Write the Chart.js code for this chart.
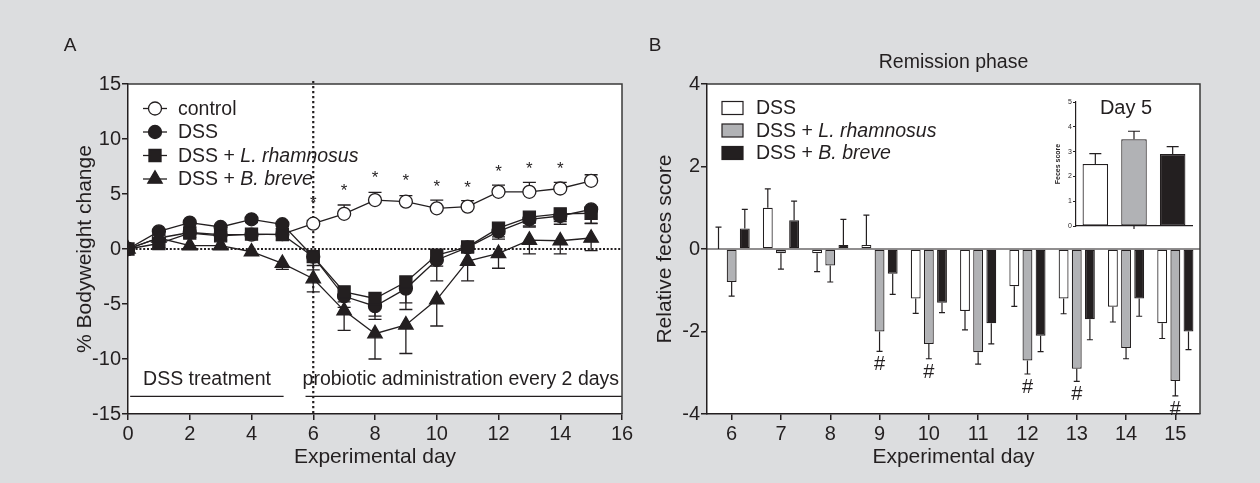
<!DOCTYPE html>
<html><head><meta charset="utf-8">
<script src="https://cdn.jsdelivr.net/npm/chart.js@4.4.1/dist/chart.umd.min.js"></script>
<style>
html,body{margin:0;padding:0;background:#dcdddf;}
#wrap{position:relative;width:1260px;height:483px;overflow:hidden;background:#dcdddf;}
canvas{position:absolute;display:block;}
#cA{left:0;top:0;}
#cB{left:640px;top:0;}
#cI{left:1040px;top:85px;}
</style></head><body>
<div id="wrap">
<canvas id="cA" width="640" height="483"></canvas>
<canvas id="cB" width="620" height="483"></canvas>
<canvas id="cI" width="160" height="150"></canvas>
</div>
<script>
// ---------- Panel A data ----------
const daysA = [0,1,2,3,4,5,6,7,8,9,10,11,12,13,14,15];
const namesA = ['control','DSS','DSS + L. rhamnosus','DSS + B. breve'];
const controlVals = [0,1.0,1.5,1.3,1.3,1.35,2.3,3.2,4.45,4.3,3.7,3.85,5.2,5.2,5.5,6.2];
const controlErr  = [0,0.3,0.3,0.3,0.3,0.3,0.3,0.8,0.7,0.55,0.75,0.55,0.6,0.85,0.55,0.55];
const dssVals = [0,1.6,2.4,2.0,2.7,2.25,-0.7,-4.3,-5.2,-3.6,-1.0,0.15,1.6,2.7,3.0,3.6];
const dssErr  = [0,0.4,0.4,0.4,0.3,0.4,1.2,1.0,1.2,1.9,1.9,0.5,0.5,0.6,0.5,1.3];
const lrhVals = [0,0.5,1.45,1.2,1.35,1.3,-0.7,-3.9,-4.5,-3.0,-0.55,0.2,1.9,2.9,3.2,3.25];
const lrhErr  = [0,0.4,0.4,0.4,0.4,0.5,0.8,0.9,1.6,1.9,1.0,0.4,1.0,0.9,0.95,0.9];
const bbrVals = [0,1.0,0.3,0.3,-0.25,-1.3,-2.7,-5.6,-7.7,-6.9,-4.6,-1.1,-0.4,0.8,0.75,1.0];
const bbrErr  = [0,0.4,0.3,0.3,0.3,0.55,1.2,1.8,2.3,2.6,2.4,1.8,1.35,1.25,1.2,1.15];
const starDays = [6,7,8,9,10,11,12,13,14];
const starVals = [4.6,5.7,6.9,6.6,6.1,6.0,7.5,7.7,7.7];
const ticksA_x = {min:0, max:16, step:2};
const ticksA_y = {min:-15, max:15, step:5};

// ---------- Panel B data ----------
const daysB = ['6','7','8','9','10','11','12','13','14','15'];
const namesB = ['DSS','DSS + L. rhamnosus','DSS + B. breve'];
const bDssVals = [0,1.0,-0.1,0.1,-1.2,-1.5,-0.9,-1.2,-1.4,-1.8];
const bDssErr  = [0.53,0.46,0.45,0.72,0.36,0.46,0.49,0.37,0.37,0.37];
const bLrhVals = [-0.8,-0.1,-0.4,-2.0,-2.3,-2.5,-2.7,-2.9,-2.4,-3.2];
const bLrhErr  = [0.34,0.39,0.4,0.48,0.36,0.29,0.33,0.31,0.26,0.36];
const bBbrVals = [0.5,0.7,0.1,-0.6,-1.3,-1.8,-2.1,-1.7,-1.2,-2.0];
const bBbrErr  = [0.46,0.46,0.62,0.5,0.24,0.5,0.39,0.5,0.43,0.44];
const hashDays = ['9','10','12','13','15'];
const ticksB_y = {min:-4, max:4, step:2};

// ---------- Inset data ----------
const insetLabels = ['DSS','DSS + L. rhamnosus','DSS + B. breve'];
const insetVals = [2.5,3.5,2.9];
const insetErr = [0.42,0.32,0.3];
const ticksI_y = {min:0, max:5, step:1};

// ---------- styling ----------
const FONT = "'Liberation Sans', Arial, Helvetica, sans-serif";
const INK = '#231f20';
const GRAY = '#b1b2b5';
const TICK = 20, TITLE = 21, TXT = 19.5;

function richText(ctx, label, x, y, size, align) {
  const parts = label.split(' + ');
  const segs = parts.length > 1 ? [[parts[0] + ' + ', false], [parts[1], true]] : [[label, false]];
  let w = 0;
  segs.forEach(s => { ctx.font = (s[1] ? 'italic ' : '') + size + 'px ' + FONT; w += ctx.measureText(s[0]).width; });
  let cx = align === 'center' ? x - w / 2 : x;
  ctx.textAlign = 'left';
  segs.forEach(s => {
    ctx.font = (s[1] ? 'italic ' : '') + size + 'px ' + FONT;
    ctx.fillText(s[0], cx, y);
    cx += ctx.measureText(s[0]).width;
  });
}

function drawMarker(ctx, style, x, y, r, fill) {
  ctx.save();
  ctx.fillStyle = fill; ctx.strokeStyle = INK; ctx.lineWidth = 1.3;
  ctx.beginPath();
  if (style === 'circle') ctx.arc(x, y, r, 0, Math.PI * 2);
  else if (style === 'rect') { const s = r / Math.SQRT2; ctx.rect(x - s, y - s, 2 * s, 2 * s); }
  else if (style === 'triangle') {
    ctx.moveTo(x, y - r); ctx.lineTo(x + r * 0.866, y + r * 0.5); ctx.lineTo(x - r * 0.866, y + r * 0.5); ctx.closePath();
  }
  ctx.fill(); ctx.stroke();
  ctx.restore();
}

const whiteArea = {
  id: 'whiteArea',
  beforeDraw(chart) {
    const {ctx, chartArea: a} = chart;
    ctx.save(); ctx.fillStyle = '#ffffff';
    ctx.fillRect(a.left, a.top, a.right - a.left, a.bottom - a.top);
    ctx.restore();
  }
};
const frame = {
  id: 'frame',
  afterDraw(chart) {
    const {ctx, chartArea: a} = chart;
    ctx.save(); ctx.strokeStyle = '#3a3a3a'; ctx.lineWidth = 1.5;
    ctx.beginPath();
    ctx.moveTo(a.left, a.top); ctx.lineTo(a.right, a.top); ctx.lineTo(a.right, a.bottom);
    ctx.stroke(); ctx.restore();
  }
};

// ---------- Panel A ----------
const seriesA = [
  {vals: controlVals, err: controlErr, dir: 1, style: 'circle', r: 6.5, fill: '#ffffff', order: 4},
  {vals: dssVals, err: dssErr, dir: -1, style: 'circle', r: 6.5, fill: INK, order: 3},
  {vals: lrhVals, err: lrhErr, dir: -1, style: 'rect', r: 8.5, fill: INK, order: 2},
  {vals: bbrVals, err: bbrErr, dir: -1, style: 'triangle', r: 8.3, fill: INK, order: 1}
];

const pluginA = {
  id: 'pluginA',
  beforeDatasetsDraw(chart) {
    const {ctx, chartArea: a, scales: {x, y}} = chart;
    ctx.save();
    ctx.strokeStyle = INK; ctx.lineWidth = 2.2; ctx.setLineDash([2, 1.8]);
    ctx.beginPath(); ctx.moveTo(a.left, y.getPixelForValue(0)); ctx.lineTo(a.right, y.getPixelForValue(0)); ctx.stroke();
    ctx.setLineDash([2.2, 2.8]);
    ctx.beginPath(); ctx.moveTo(x.getPixelForValue(6), a.top - 3); ctx.lineTo(x.getPixelForValue(6), a.bottom); ctx.stroke();
    ctx.setLineDash([]);
    // error bars
    ctx.lineWidth = 1.3;
    seriesA.forEach(s => {
      s.vals.forEach((v, i) => {
        if (!s.err[i]) return;
        const px = x.getPixelForValue(daysA[i]);
        const y0 = y.getPixelForValue(v), y1 = y.getPixelForValue(v + s.dir * s.err[i]);
        ctx.beginPath(); ctx.moveTo(px, y0); ctx.lineTo(px, y1);
        ctx.moveTo(px - 6.5, y1); ctx.lineTo(px + 6.5, y1); ctx.stroke();
      });
    });
    ctx.restore();
  },
  afterDraw(chart) {
    const {ctx, chartArea: a, scales: {x, y}} = chart;
    ctx.save();
    ctx.fillStyle = INK; ctx.strokeStyle = INK;
    // stars
    ctx.font = '17px ' + FONT; ctx.textAlign = 'center'; ctx.textBaseline = 'alphabetic';
    starDays.forEach((d, i) => ctx.fillText('*', x.getPixelForValue(d), y.getPixelForValue(starVals[i]) + 10));
    // legend
    namesA.forEach((n, i) => {
      const cy = 108.5 + i * 23.5;
      ctx.lineWidth = 1.3;
      ctx.beginPath(); ctx.moveTo(143, cy); ctx.lineTo(167, cy); ctx.stroke();
      drawMarker(ctx, seriesA[i].style, 155, cy, seriesA[i].r, seriesA[i].fill);
      ctx.fillStyle = INK; ctx.textBaseline = 'middle';
      richText(ctx, n, 178, cy + 1, TXT, 'left');
    });
    // phase annotations
    ctx.font = TXT + 'px ' + FONT; ctx.textBaseline = 'middle'; ctx.textAlign = 'center';
    ctx.fillText('DSS treatment', x.getPixelForValue(2.56), y.getPixelForValue(-11.9));
    ctx.fillText('probiotic administration every 2 days', x.getPixelForValue(10.78), y.getPixelForValue(-11.9));
    ctx.lineWidth = 1.3;
    const ly = y.getPixelForValue(-13.4);
    ctx.beginPath(); ctx.moveTo(x.getPixelForValue(0.07), ly); ctx.lineTo(x.getPixelForValue(5.04), ly);
    ctx.moveTo(x.getPixelForValue(5.75), ly); ctx.lineTo(a.right, ly); ctx.stroke();
    // panel letter
    ctx.font = '19px ' + FONT; ctx.textAlign = 'center';
    ctx.fillText('A', 70, 46);
    ctx.restore();
  }
};

new Chart(document.getElementById('cA'), {
  type: 'line',
  data: {
    datasets: seriesA.map((s, k) => ({
      label: namesA[k], order: s.order,
      data: daysA.map((d, i) => ({x: d, y: s.vals[i]})),
      borderColor: INK, borderWidth: 1.3, tension: 0,
      pointStyle: s.style, pointRadius: s.r, pointBackgroundColor: s.fill,
      pointBorderColor: INK, pointBorderWidth: 1.3
    }))
  },
  options: {
    responsive: false, animation: false,
    layout: {padding: {left: 69, top: 84, right: 18, bottom: 9}},
    plugins: {legend: {display: false}, tooltip: {enabled: false}},
    scales: {
      x: {
        type: 'linear', min: ticksA_x.min, max: ticksA_x.max,
        ticks: {stepSize: ticksA_x.step, color: INK, font: {family: FONT, size: TICK}, padding: 2, maxRotation: 0},
        grid: {drawOnChartArea: false, tickLength: 6, color: INK, lineWidth: 1.5},
        border: {color: INK, width: 1.5},
        title: {display: true, text: 'Experimental day', color: INK, font: {family: FONT, size: TITLE}, padding: {top: 0, bottom: 4}},
        afterFit: s => { s.height = 60; }
      },
      y: {
        min: ticksA_y.min, max: ticksA_y.max,
        ticks: {stepSize: ticksA_y.step, color: INK, font: {family: FONT, size: TICK}, padding: 1},
        grid: {drawOnChartArea: false, tickLength: 6, color: INK, lineWidth: 1.5},
        border: {color: INK, width: 1.5},
        title: {display: true, text: '% Bodyweight change', color: INK, font: {family: FONT, size: TITLE}, padding: {top: 4, bottom: 0}},
        afterFit: s => { s.width = 59; }
      }
    }
  },
  plugins: [whiteArea, pluginA, frame]
});

// ---------- Panel B ----------
const seriesB = [
  {vals: bDssVals, err: bDssErr, color: '#ffffff'},
  {vals: bLrhVals, err: bLrhErr, color: GRAY},
  {vals: bBbrVals, err: bBbrErr, color: INK}
];

const pluginB = {
  id: 'pluginB',
  beforeDatasetsDraw(chart) {
    const {ctx, chartArea: a, scales: {y}} = chart;
    ctx.save(); ctx.strokeStyle = INK; ctx.lineWidth = 1.2;
    const y0 = y.getPixelForValue(0);
    ctx.beginPath(); ctx.moveTo(a.left, y0); ctx.lineTo(a.right, y0); ctx.stroke();
    ctx.restore();
  },
  afterDatasetsDraw(chart) {
    const {ctx, scales: {y}} = chart;
    ctx.save(); ctx.strokeStyle = INK; ctx.fillStyle = INK; ctx.lineWidth = 1.2;
    seriesB.forEach((s, k) => {
      const meta = chart.getDatasetMeta(k);
      s.vals.forEach((v, i) => {
        const bar = meta.data[i];
        const dir = v >= 0 ? 1 : -1;
        const yv = y.getPixelForValue(v), ye = y.getPixelForValue(v + dir * s.err[i]);
        ctx.beginPath(); ctx.moveTo(bar.x, yv); ctx.lineTo(bar.x, ye);
        ctx.moveTo(bar.x - 3, ye); ctx.lineTo(bar.x + 3, ye); ctx.stroke();
        if (k === 1 && hashDays.includes(daysB[i])) {
          ctx.font = '20px ' + FONT; ctx.textAlign = 'center'; ctx.textBaseline = 'alphabetic';
          ctx.fillText('#', bar.x, ye + 12 + 7);
        }
      });
    });
    ctx.restore();
  },
  afterDraw(chart) {
    const {ctx, chartArea: a} = chart;
    ctx.save(); ctx.fillStyle = INK; ctx.strokeStyle = INK;
    namesB.forEach((n, i) => {
      const cy = 108 + i * 22.5;
      ctx.fillStyle = seriesB[i].color; ctx.lineWidth = 1.2;
      ctx.fillRect(82, cy - 6.5, 21, 13); ctx.strokeRect(82, cy - 6.5, 21, 13);
      ctx.fillStyle = INK; ctx.textBaseline = 'middle';
      richText(ctx, n, 116, cy + 1, TXT, 'left');
    });
    ctx.font = '19.5px ' + FONT; ctx.textAlign = 'center'; ctx.textBaseline = 'middle';
    ctx.fillText('Remission phase', (a.left + a.right) / 2, 63);
    ctx.font = '19px ' + FONT;
    ctx.fillText('B', 15, 46);
    ctx.restore();
  }
};

new Chart(document.getElementById('cB'), {
  type: 'bar',
  data: {
    labels: daysB,
    datasets: seriesB.map((s, k) => ({
      label: namesB[k], data: s.vals,
      backgroundColor: s.color, borderColor: INK, borderWidth: 1.2, borderSkipped: false,
      categoryPercentage: 0.8, barPercentage: 0.75
    }))
  },
  options: {
    responsive: false, animation: false,
    layout: {padding: {left: 9, top: 84, right: 60, bottom: 9}},
    plugins: {legend: {display: false}, tooltip: {enabled: false}},
    scales: {
      x: {
        ticks: {color: INK, font: {family: FONT, size: TICK}, padding: 2, maxRotation: 0},
        grid: {drawOnChartArea: false, offset: false, tickLength: 6, color: INK, lineWidth: 1.5},
        border: {color: INK, width: 1.5},
        title: {display: true, text: 'Experimental day', color: INK, font: {family: FONT, size: TITLE}, padding: {top: 0, bottom: 4}},
        afterFit: s => { s.height = 60; }
      },
      y: {
        min: ticksB_y.min, max: ticksB_y.max,
        ticks: {stepSize: ticksB_y.step, color: INK, font: {family: FONT, size: TICK}, padding: 1},
        grid: {drawOnChartArea: false, tickLength: 6, color: INK, lineWidth: 1.5},
        border: {color: INK, width: 1.5},
        title: {display: true, text: 'Relative feces score', color: INK, font: {family: FONT, size: TITLE}, padding: {top: 4, bottom: 0}},
        afterFit: s => { s.width = 58; }
      }
    }
  },
  plugins: [whiteArea, pluginB, frame]
});

// ---------- Inset ----------
const pluginI = {
  id: 'pluginI',
  afterDatasetsDraw(chart) {
    const {ctx, chartArea: a, scales: {x, y}} = chart;
    const meta = chart.getDatasetMeta(0);
    ctx.save(); ctx.strokeStyle = INK; ctx.lineWidth = 1.2;
    insetVals.forEach((v, i) => {
      const bar = meta.data[i];
      const yv = y.getPixelForValue(v), ye = y.getPixelForValue(v + insetErr[i]);
      ctx.beginPath(); ctx.moveTo(bar.x, yv); ctx.lineTo(bar.x, ye);
      ctx.moveTo(bar.x - 6, ye); ctx.lineTo(bar.x + 6, ye); ctx.stroke();
    });
    const mx = (a.left + a.right) / 2;
    ctx.beginPath(); ctx.moveTo(mx, a.bottom); ctx.lineTo(mx, a.bottom + 3); ctx.stroke();
    ctx.fillStyle = INK; ctx.font = '20px ' + FONT; ctx.textAlign = 'center'; ctx.textBaseline = 'middle';
    ctx.fillText('Day 5', 86, 23);
    ctx.restore();
  }
};

new Chart(document.getElementById('cI'), {
  type: 'bar',
  data: {
    labels: insetLabels,
    datasets: [{
      data: insetVals,
      backgroundColor: ['#ffffff', GRAY, INK], borderColor: INK, borderWidth: 1.2, borderSkipped: false,
      categoryPercentage: 1, barPercentage: 0.66
    }]
  },
  options: {
    responsive: false, animation: false,
    layout: {padding: {left: 14, top: 17, right: 8, bottom: 0}},
    plugins: {legend: {display: false}, tooltip: {enabled: false}},
    scales: {
      x: {
        ticks: {display: false},
        grid: {display: false},
        border: {color: INK, width: 1.2},
        afterFit: s => { s.height = 9; }
      },
      y: {
        min: ticksI_y.min, max: ticksI_y.max,
        ticks: {stepSize: ticksI_y.step, color: INK, font: {family: FONT, size: 7}, padding: 1},
        grid: {drawOnChartArea: false, tickLength: 3, color: INK, lineWidth: 1},
        border: {color: INK, width: 1.2},
        title: {display: true, text: 'Feces score', color: INK, font: {family: FONT, size: 7, weight: 'bold'}, padding: {top: 0, bottom: 0}},
        afterFit: s => { s.width = 22; }
      }
    }
  }
  ,plugins: [pluginI]
});
</script>
</body></html>
